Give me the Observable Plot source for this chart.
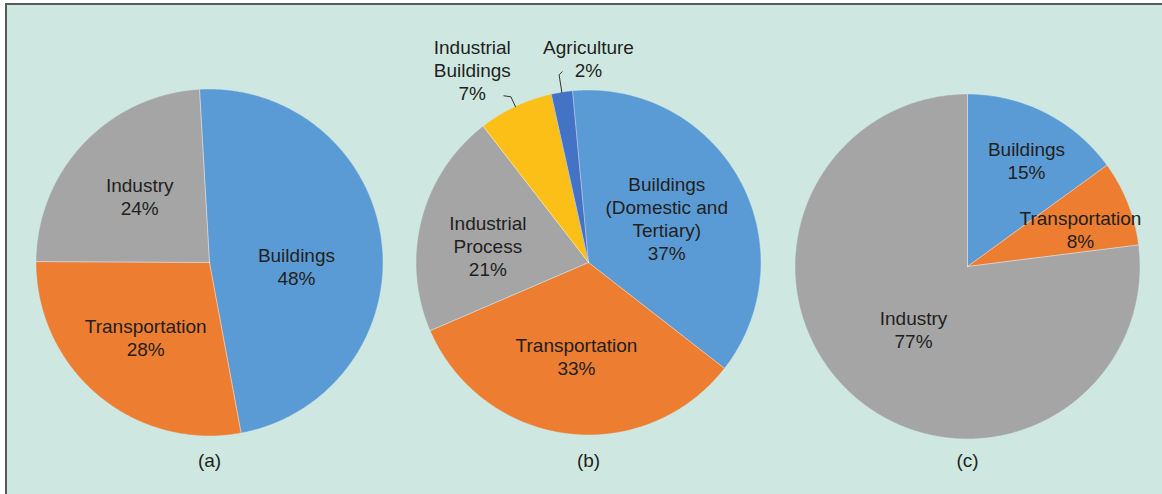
<!DOCTYPE html>
<html><head><meta charset="utf-8">
<script src="https://cdn.jsdelivr.net/npm/d3@7"></script>
<script src="https://cdn.jsdelivr.net/npm/@observablehq/plot@0.6"></script>
<style>
body{margin:0;background:#fff;}
#wrap{position:relative;width:1162px;height:494px;overflow:hidden;}
#panel{position:absolute;left:5px;top:3px;right:0;bottom:0;background:#cee8e1;border-top:2px solid #5a5a5a;border-left:2px solid #5a5a5a;}
#chart{position:absolute;left:0;top:0;}
</style></head><body>
<div id="wrap"><div id="panel"></div><div id="chart"></div></div>
<script>
// ---------- DATA ----------
const sectorsA = ["Buildings", "Transportation", "Industry"];
const namesA   = ["Buildings", "Transportation", "Industry"];
const valuesA  = [48, 28, 24];

const sectorsB = ["Buildings", "Transportation", "Industrial Process", "Industrial Buildings", "Agriculture"];
const namesB   = ["Buildings\n(Domestic and\nTertiary)", "Transportation", "Industrial\nProcess", "Industrial\nBuildings", "Agriculture"];
const valuesB  = [37, 33, 21, 7, 2];

const sectorsC = ["Buildings", "Transportation", "Industry"];
const namesC   = ["Buildings", "Transportation", "Industry"];
const valuesC  = [15, 8, 77];

const panelLabels = ["(a)", "(b)", "(c)"];

const sectorDomain = ["Buildings", "Transportation", "Industry", "Industrial Process", "Industrial Buildings", "Agriculture"];

// ---------- STYLE / LAYOUT ----------
const sectorColors = ["#5b9bd5", "#ed7d31", "#a5a5a5", "#a5a5a5", "#fcbf17", "#4472c4"];
const W = 1162, H = 494;
const captionY = 460;
const pies = [
  {cx: 209, cy: 262, R: 173, start: -3.3, sectors: sectorsA, names: namesA, values: valuesA,
   labelPolar: [[92.4, 87], [220.6, 98], [313.4, 96]], leaders: []},
  {cx: 588, cy: 262, R: 172, start: -5.3, sectors: sectorsB, names: namesB, values: valuesB,
   labelPolar: [[60.4, 90], [187.3, 94.5], [279.4, 102], [328.9, 225], [0, 204]],
   leaders: [{i: 3, ext: 11, dx: -7, dy: -1}, {i: 4, ext: 18, dx: 3, dy: -3}]},
  {cx: 967, cy: 266, R: 172, start: 0, sectors: sectorsC, names: namesC, values: valuesC,
   labelPolar: [[29, 121.6], [71.7, 119], [220.7, 82.7]], leaders: []}
];

const rad = d => d * Math.PI / 180;
const polar = (p, a, r) => ({x: p.cx + r * Math.sin(a), y: p.cy - r * Math.cos(a)});

const slicePts = [], edgePts = [], labels = [], leaderPts = [], captions = [];
pies.forEach((p, k) => {
  const s0 = rad(p.start);
  const arcs = d3.pie().sort(null).startAngle(s0).endAngle(s0 + 2 * Math.PI)(p.values);
  arcs.forEach((a, i) => {
    const id = `${k}-${i}`;
    const sector = p.sectors[i];
    slicePts.push({id, sector, ...polar(p, 0, 0)});
    const n = Math.max(2, Math.ceil((a.endAngle - a.startAngle) / rad(0.5)));
    for (let j = 0; j <= n; j++) {
      const t = a.startAngle + (a.endAngle - a.startAngle) * j / n;
      slicePts.push({id, sector, ...polar(p, t, p.R)});
    }
    slicePts.push({id, sector, ...polar(p, 0, 0)});
    edgePts.push({id: "E" + id, ...polar(p, 0, 0)}, {id: "E" + id, ...polar(p, a.startAngle, p.R)});
    const [la, lr] = p.labelPolar[i];
    labels.push({...polar(p, rad(la), lr), text: `${p.names[i]}\n${p.values[i]}%`});
  });
  p.leaders.forEach(L => {
    const a = arcs[L.i];
    const mid = (a.startAngle + a.endAngle) / 2;
    const id = `L${k}-${L.i}`;
    const p0 = polar(p, mid, p.R);
    const p1 = polar(p, mid, p.R + L.ext);
    leaderPts.push({id, ...p0}, {id, ...p1}, {id, x: p1.x + L.dx, y: p1.y + L.dy});
  });
  captions.push({x: p.cx, y: captionY, text: panelLabels[k]});
});

const chart = Plot.plot({
  width: W, height: H, margin: 0,
  x: {domain: [0, W], range: [0, W], axis: null},
  y: {domain: [0, H], range: [0, H], axis: null},
  color: {domain: sectorDomain, range: sectorColors},
  style: {background: "transparent", fontFamily: "'Liberation Sans', Arial, Helvetica, sans-serif"},
  marks: [
    Plot.line(slicePts, {x: "x", y: "y", z: "id", fill: "sector", stroke: "sector", strokeWidth: 0.5, curve: "linear"}),
    Plot.line(edgePts, {x: "x", y: "y", z: "id", stroke: "#ffffff", strokeOpacity: 0.55, strokeWidth: 0.9}),
    Plot.line(leaderPts, {x: "x", y: "y", z: "id", stroke: "#333333", strokeWidth: 1, curve: "linear"}),
    Plot.text(labels, {x: "x", y: "y", text: "text", fontSize: 19, lineHeight: 1.21, lineAnchor: "middle", fill: "#231f20"}),
    Plot.text(captions, {x: "x", y: "y", text: "text", fontSize: 19, lineAnchor: "middle", fill: "#231f20"})
  ]
});
document.getElementById("chart").appendChild(chart);
</script>
</body></html>
